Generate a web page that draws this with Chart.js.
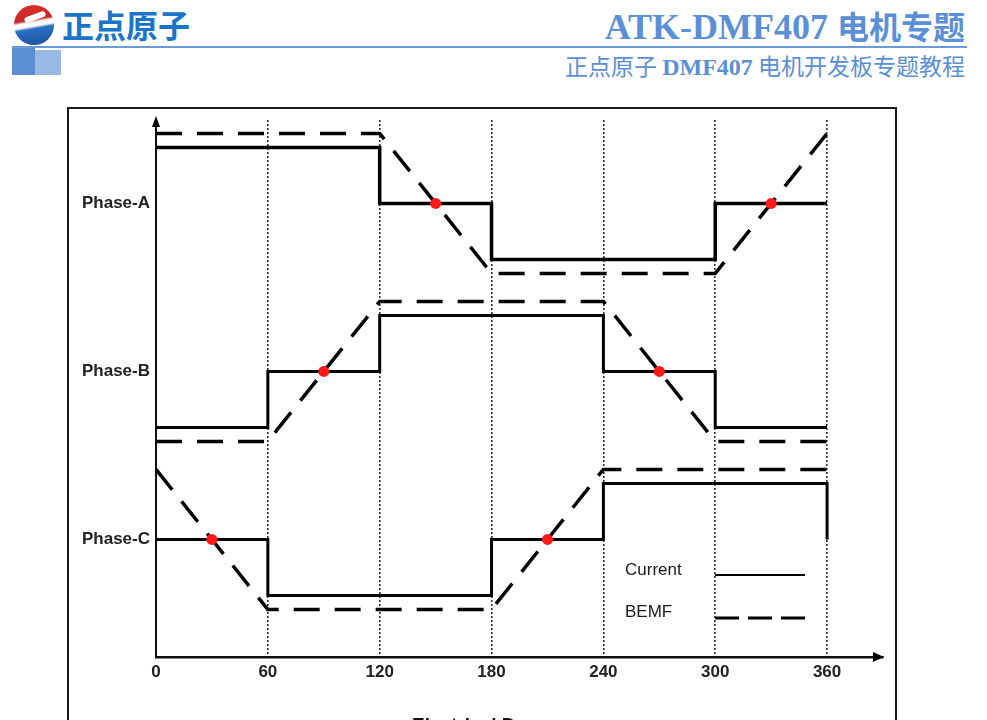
<!DOCTYPE html>
<html>
<head>
<meta charset="utf-8">
<script src="https://cdn.jsdelivr.net/npm/chart.js@4"></script>
<style>
  html, body { margin:0; padding:0; width:987px; height:720px; overflow:hidden; background:#fff; }
  .abs { position:absolute; }
  #logo { left:14px; top:5px; width:40px; height:40px; border-radius:50%;
    background: linear-gradient(170deg, #e0302a 0%, #c62a2a 38%, #ffffff 44%, #ffffff 52%, #2a6fc4 58%, #1b4f9a 100%); }
  #logo2 { left:24px; top:14px; width:22px; height:6px; background:#fff; transform:rotate(-20deg); border-radius:3px; }
  #brand { left:62px; top:1px; font:bold 32px "Noto Sans CJK SC"; color:#1a74c8; letter-spacing:0px; white-space:nowrap; }
  #title { right:22px; top:2px; font:bold 36px "Liberation Serif", "Noto Sans CJK SC"; color:#5b8fd6; white-space:nowrap; }
  #title .cjk { font-family:"Noto Sans CJK SC"; font-weight:bold; font-size:32px; }
  #rule { left:12px; top:46px; width:955px; height:2px; background:#6a9bd8; }
  #sq1 { left:12px; top:48px; width:23px; height:27px; background:#5b8fd4; }
  #sq2 { left:35px; top:50px; width:26px; height:25px; background:#98b9e4; }
  #sub { right:22px; top:48px; font:23px "Noto Sans CJK SC"; color:#5b8fd4; white-space:nowrap; }
  #sub b { font-family:"Liberation Serif"; font-weight:bold; font-size:24px; }
  #frame { left:67px; top:107px; width:826px; height:700px; border:2px solid #1a1a1a; }
  #c { position:absolute; left:0; top:0; z-index:2; }
</style>
</head>
<body>
<div id="logo" class="abs"></div>
<div id="logo2" class="abs"></div>
<div id="brand" class="abs">正点原子</div>
<div id="title" class="abs">ATK-DMF407 <span class="cjk">电机专题</span></div>
<div id="rule" class="abs"></div>
<div id="sq1" class="abs"></div>
<div id="sq2" class="abs"></div>
<div id="sub" class="abs">正点原子 <b>DMF407</b> 电机开发板专题教程</div>
<div id="frame" class="abs"></div>
<canvas id="c" width="987" height="720"></canvas>
<script>
// ---- data ----
const sectorEdges = [0, 60, 120, 180, 240, 300, 360];       // electrical degrees
const xTickLabels = ["0", "60", "120", "180", "240", "300", "360"];
const phaseNames = ["Phase-A", "Phase-B", "Phase-C"];
const phaseCenters = [8, 5, 2];                              // vertical baseline of each phase
// current level per 60° sector (+1 high, 0 floating, -1 low)
const currentA = [1, 1, 0, -1, -1, 0];
const currentB = [-1, 0, 1, 1, 0, -1];
const currentC = [0, -1, -1, 0, 1, 1];
// trapezoidal BEMF value at each sector edge
const bemfA = [1, 1, 1, -1, -1, -1, 1];
const bemfB = [-1, -1, 1, 1, 1, -1, -1];
const bemfC = [1, -1, -1, -1, 1, 1, 1];
// zero-crossing angles (red dots) per phase
const crossA = [150, 330];
const crossB = [90, 270];
const crossC = [30, 210];
const currentAmp = 1.0;
const bemfAmp = 1.25;
const legendLabels = ["Current", "BEMF"];
const xAxisTitle = "Electrical Degrees";

// ---- build datasets ----
function currentPoints(levels, center, endDrop) {
  const pts = [];
  levels.forEach((lv, i) => {
    pts.push({x: sectorEdges[i], y: center + lv * currentAmp});
    pts.push({x: sectorEdges[i + 1], y: center + lv * currentAmp});
  });
  if (endDrop) pts.push({x: 360, y: center});
  return pts;
}
function bemfPoints(vals, center) {
  return vals.map((v, i) => ({x: sectorEdges[i], y: center + v * bemfAmp}));
}
const dots = [];
[crossA, crossB, crossC].forEach((arr, p) => arr.forEach(a => dots.push({x: a, y: phaseCenters[p]})));

const curWidths = [3.5, 3, 3];
const datasets = [];
[currentA, currentB, currentC].forEach((lv, p) => {
  datasets.push({label: legendLabels[0] + " " + phaseNames[p], data: currentPoints(lv, phaseCenters[p], p === 2),
    borderColor: "#000", borderWidth: curWidths[p], pointRadius: 0, fill: false, tension: 0, order: 2});
});
[bemfA, bemfB, bemfC].forEach((vals, p) => {
  datasets.push({label: legendLabels[1] + " " + phaseNames[p], data: bemfPoints(vals, phaseCenters[p]),
    borderColor: "#000", borderWidth: 3.5, borderDash: [26, 15], pointRadius: 0, fill: false, tension: 0, order: 1});
});
datasets.push({label: "zero", data: dots, showLine: false, pointRadius: 5.5, pointBackgroundColor: "#ff1a1a",
  pointBorderWidth: 0, order: 0});

const decor = {
  id: "decor",
  afterDraw(chart) {
    const {ctx, chartArea: a} = chart;
    ctx.save();
    ctx.fillStyle = "#000";
    // y axis arrow
    ctx.beginPath();
    ctx.moveTo(a.left, a.top - 4); ctx.lineTo(a.left - 4, a.top + 7); ctx.lineTo(a.left + 4, a.top + 7); ctx.closePath(); ctx.fill();
    // x axis arrow
    ctx.beginPath();
    ctx.moveTo(a.right + 1, a.bottom); ctx.lineTo(a.right - 10, a.bottom - 5); ctx.lineTo(a.right - 10, a.bottom + 5); ctx.closePath(); ctx.fill();
    // legend
    const lx = 625, lineX0 = 715, lineX1 = 805;
    ctx.font = "17px 'Liberation Sans'";
    ctx.fillStyle = "#1a1a1a";
    ctx.textBaseline = "middle";
    ctx.fillText(legendLabels[0], lx, 570);
    ctx.fillText(legendLabels[1], lx, 612);
    ctx.strokeStyle = "#000";
    ctx.lineWidth = 2;
    ctx.beginPath(); ctx.moveTo(lineX0, 575); ctx.lineTo(lineX1, 575); ctx.stroke();
    ctx.lineWidth = 3;
    ctx.setLineDash([24, 9]);
    ctx.beginPath(); ctx.moveTo(lineX0, 618); ctx.lineTo(lineX1, 618); ctx.stroke();
    ctx.setLineDash([]);
    // axis title (cut off by page edge)
    ctx.font = "bold 19px 'Liberation Sans'";
    ctx.textBaseline = "top";
    ctx.fillStyle = "#111";
    ctx.fillText(xAxisTitle, 412, 716);
    ctx.restore();
  }
};

new Chart(document.getElementById("c"), {
  type: "line",
  data: {datasets},
  options: {
    responsive: false,
    animation: false,
    devicePixelRatio: 1,
    layout: {padding: {left: 0, top: 120, right: 104, bottom: 0}},
    plugins: {legend: {display: false}, tooltip: {enabled: false}},
    scales: {
      x: {
        type: "linear", min: 0, max: 390,
        afterBuildTicks: s => { s.ticks = sectorEdges.map(v => ({value: v})); },
        afterFit: s => { s.height = 63; },
        ticks: {callback: (v) => xTickLabels[sectorEdges.indexOf(v)], color: "#222",
          font: {family: "Liberation Sans", weight: "bold", size: 17}, padding: 5, maxRotation: 0, autoSkip: false},
        grid: {drawTicks: false, color: c => (c.tick && c.tick.value === 0) ? "rgba(0,0,0,0)" : "#333", lineWidth: 1.6},
        border: {display: true, color: "#111", width: 2.5, dash: [2, 2]}
      },
      y: {
        type: "linear", min: -0.1, max: 9.49,
        afterBuildTicks: s => { s.ticks = phaseCenters.map(v => ({value: v})); },
        afterFit: s => { s.width = 156; },
        ticks: {callback: (v) => phaseNames[phaseCenters.indexOf(v)], color: "#222",
          font: {family: "Liberation Sans", weight: "bold", size: 17}, padding: 6},
        grid: {display: false, drawTicks: false},
        border: {display: true, color: "#111", width: 2}
      }
    }
  },
  plugins: [decor]
});
</script>
</body>
</html>
